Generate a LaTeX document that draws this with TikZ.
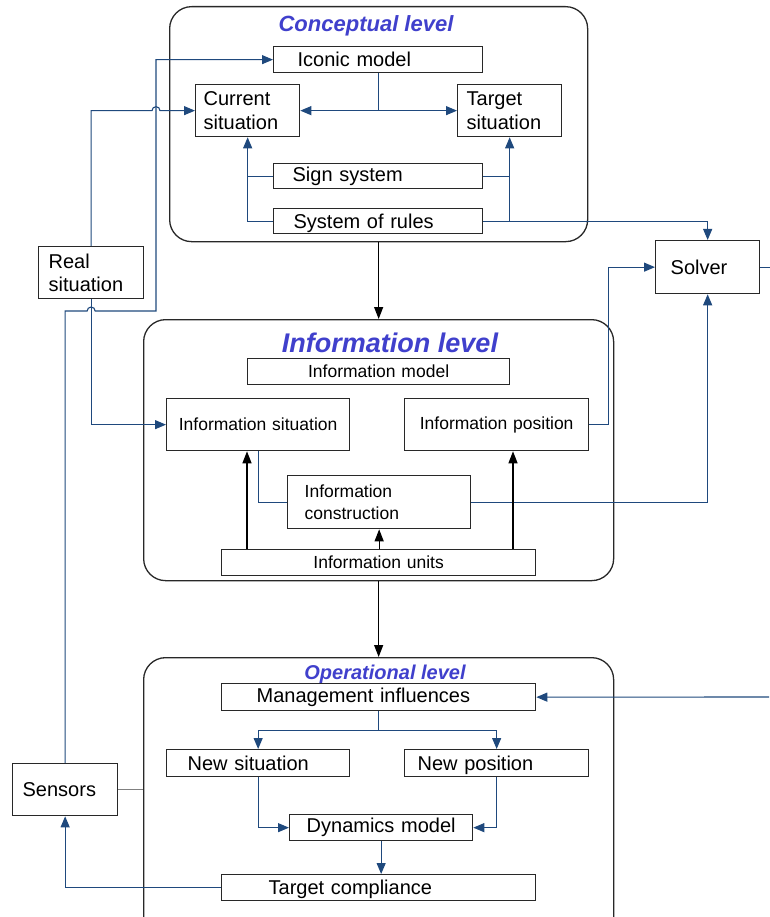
\documentclass[tikz,border=0pt]{standalone}
\usepackage{fontspec}
\setmainfont{Liberation Sans}
\usetikzlibrary{arrows.meta,calc,positioning}
\definecolor{linkblue}{RGB}{31,73,125}
\definecolor{titleblue}{RGB}{64,64,204}
\definecolor{boxline}{RGB}{40,40,40}

\begin{document}
\begin{tikzpicture}[x=1pt,y=-1pt,
    box/.style={draw=boxline, line width=1.3pt, fill=white, inner ysep=0pt, align=left, anchor=north west, font=\fontsize{20}{23.5}\selectfont},
    smallbox/.style={box, align=center, font=\fontsize{17.5}{21.5}\selectfont},
    level/.style={draw=boxline, line width=1.3pt, rounded corners=22pt, anchor=north west, inner sep=0pt},
    title/.style={text=titleblue},
    link/.style={draw=linkblue, line width=1.1pt},
    linkarrow/.style={link, -{Triangle[length=11pt,width=9pt]}},
    levelarrow/.style={draw=black, line width=1.2pt, -{Triangle[length=12pt,width=9pt]}}]
    \useasboundingbox (0,0) rectangle (769,917);

    \node[level, minimum width=418pt, minimum height=235pt] (concept) at (169,6) {};
    \node[level, minimum width=470pt, minimum height=261pt] (info) at (143,319) {};
    \node[level, minimum width=470pt, minimum height=290pt] (oper) at (143,657) {};
    \node[title, font=\fontsize{22}{26}\selectfont\bfseries\itshape] (concepttitle) at (366,26) {Conceptual level};
    \node[title, font=\fontsize{27}{31}\selectfont\bfseries\itshape] (infotitle) at (390,343) {Information level};
    \node[title, font=\fontsize{20}{24}\selectfont\bfseries\itshape] (opertitle) at (385,674) {Operational level};

    \node[box, minimum height=26pt, text width=161pt, inner xsep=24pt] (icon) at (273,46) {Iconic model};
    \node[box, minimum height=52pt, text width=88pt, inner xsep=8pt] (cur) at (195,84) {Current\\situation};
    \node[box, minimum height=52pt, text width=86pt, inner xsep=9pt] (tgt) at (457,84) {Target\\situation};
    \node[box, minimum height=25pt, text width=171pt, inner xsep=19pt] (sign) at (273,163) {Sign system};
    \node[box, minimum height=25pt, text width=169pt, inner xsep=20pt, text depth=0pt] (rules) at (273,208) {System of rules};
    \node[box, minimum height=53pt, text width=74pt, inner xsep=15pt] (solver) at (655,240) {Solver};
    \node[box, minimum height=52pt, text width=85pt, inner xsep=10pt] (real) at (38,246) {Real\\situation};

    \node[smallbox, minimum height=26pt, text width=254pt, inner xsep=4pt] (imodel) at (247,358) {Information model};
    \node[smallbox, minimum height=52pt, text width=175pt, inner xsep=4pt] (isit) at (166,398) {Information situation};
    \node[smallbox, minimum height=52pt, text width=176pt, inner xsep=4pt] (ipos) at (404,398) {Information position};
    \node[smallbox, align=left, minimum height=53pt, text width=149pt, inner xsep=17pt] (icons) at (287,475) {Information\\construction};
    \node[smallbox, minimum height=26pt, text width=306pt, inner xsep=4pt, text depth=0pt] (iunits) at (221,549) {Information units};

    \node[box, minimum height=27pt, text width=244pt, inner xsep=35pt] (mgmt) at (221,683) {Management influences};
    \node[box, minimum height=27pt, text width=141pt, inner xsep=21pt] (nsit) at (166,749) {New situation};
    \node[box, minimum height=27pt, text width=158pt, inner xsep=13pt, text depth=0pt] (npos) at (404,749) {New position};
    \node[box, align=center, minimum height=26pt, text width=175pt, inner xsep=4pt] (dyn) at (289,814) {Dynamics model};
    \node[box, minimum height=26pt, text width=220pt, inner xsep=47pt, text depth=0pt] (tcomp) at (221,874) {Target compliance};
    \node[box, minimum height=52pt, text width=85pt, inner xsep=10pt] (sens) at (12,763) {Sensors};

    \coordinate (bus) at (156,311);
    \coordinate (ctrl) at (769,697);

    \draw[linkarrow] (icon.south) |- (cur.east);
    \draw[linkarrow] (icon.south) |- (tgt.west);
    \draw[linkarrow] (sign.west) -| (cur.south);
    \draw[link] (rules.west) -| (cur.south |- sign.west);
    \draw[linkarrow] (sign.east) -| (tgt.south);
    \draw[link] (rules.east) -| (tgt.south |- sign.east);
    \draw[linkarrow] (rules.east) -| (solver.north);
    \draw[link] (solver.east) -- ++(15,0);
    \draw[linkarrow] (ipos.east) -- ++(19,0) |- (solver.west);
    \draw[linkarrow] (icons.east) -| (solver.south);

    \draw[linkarrow] (real.north) |- ($(bus |- cur.west)+(-4,0)$) arc[start angle=180, end angle=0, radius=4pt] -- (cur.west);
    \draw[linkarrow] (sens.north) |- ($(real.south |- bus)+(-4,0)$) arc[start angle=180, end angle=0, radius=4pt] -- (bus) |- (icon.west);
    \draw[linkarrow] (real.south) |- (isit.west);

    \draw[levelarrow] (concept.south) -- (info.north);
    \draw[levelarrow] (info.south) -- (oper.north);
    \draw[levelarrow] (iunits.north -| 247,0) -- (isit.south -| 247,0);
    \draw[levelarrow] (iunits.north -| icons.south) -- (icons.south);
    \draw[levelarrow] (iunits.north -| 513,0) -- (ipos.south -| 513,0);
    \draw[link] (isit.south) |- (icons.west);

    \draw[linkarrow] (ctrl) -- (mgmt.east);
    \draw[link] (mgmt.south) -- ++(0,19) coordinate (split);
    \draw[linkarrow] (split) -| (nsit.north);
    \draw[linkarrow] (split) -| (npos.north);
    \draw[linkarrow] (nsit.south) |- (dyn.west);
    \draw[linkarrow] (npos.south) |- (dyn.east);
    \draw[linkarrow] (dyn.south) -- (tcomp.north -| dyn.south);
    \draw[linkarrow] (tcomp.west) -| (sens.south);
    \draw[draw=gray, line width=1.1pt] (sens.east) -- (oper.west |- sens.east);
\end{tikzpicture}
\end{document}
